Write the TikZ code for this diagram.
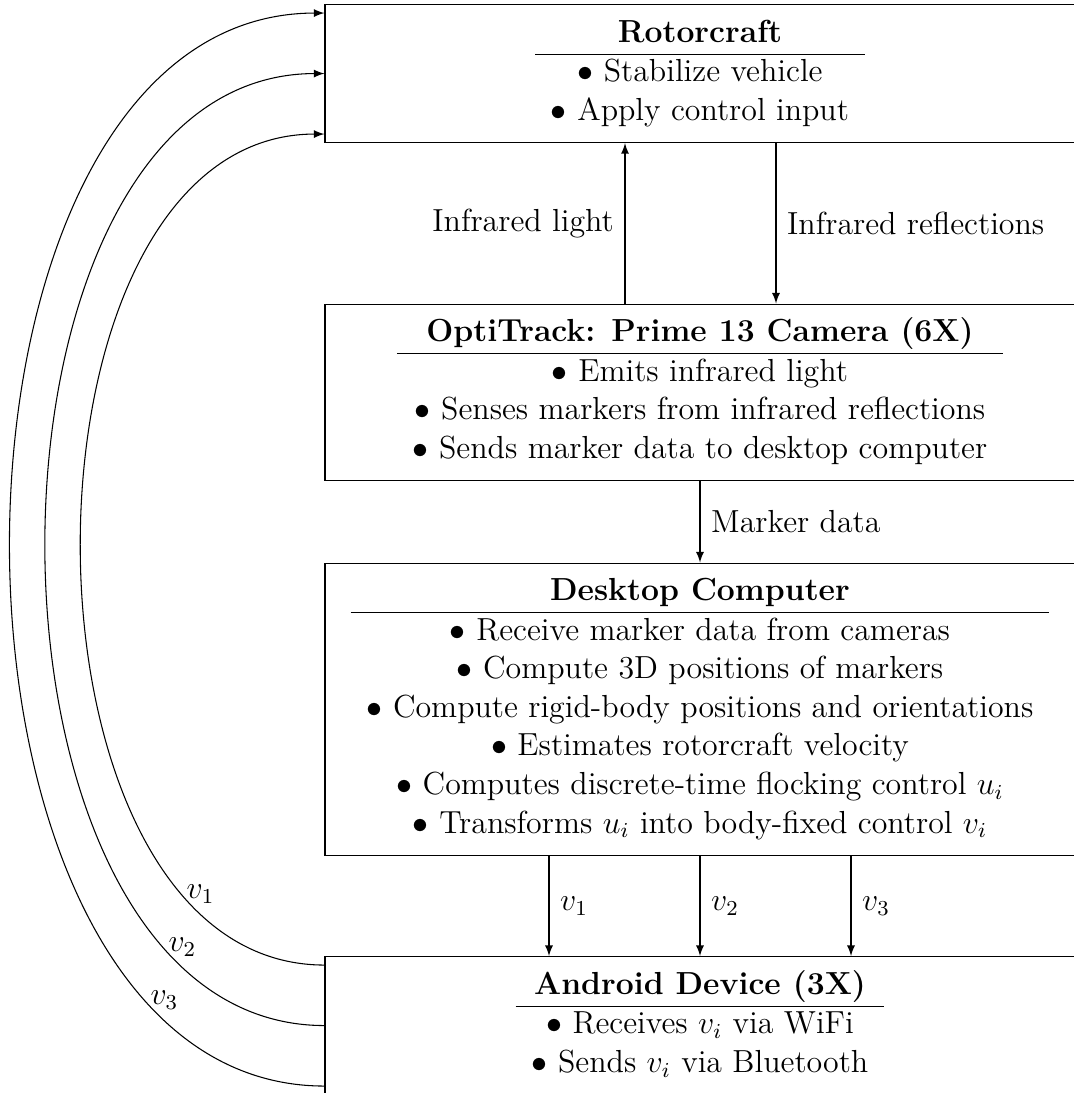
\documentclass[tikz,border=0pt,12pt]{standalone}
\usetikzlibrary{calc}
\tikzset{
  unitbox/.style={draw, rectangle, anchor=north, minimum width=282pt, inner sep=4pt},
  link/.style={-latex},
}
\begin{document}
\begin{tikzpicture}[x=0.376pt,y=-0.376pt]
   \useasboundingbox (0,0) rectangle (1073,1093);
   % boxes
   \node[unitbox] (rotor) at (700,4) {\begin{tabular}{c}
      \textbf{Rotorcraft}\\ \hline
      $\bullet$ Stabilize vehicle\\
      $\bullet$ Apply control input
   \end{tabular}};
   \node[unitbox] (opti) at (700,303.5) {\begin{tabular}{c}
      \textbf{OptiTrack: Prime 13 Camera (6X)}\\ \hline
      $\bullet$ Emits infrared light\\
      $\bullet$ Senses markers from infrared reflections\\
      $\bullet$ Sends marker data to desktop computer
   \end{tabular}};
   \node[unitbox] (desk) at (700,562.5) {\begin{tabular}{c}
      \textbf{Desktop Computer}\\ \hline
      $\bullet$ Receive marker data from cameras\\
      $\bullet$ Compute 3D positions of markers\\
      $\bullet$ Compute rigid-body positions and orientations\\
      $\bullet$ Estimates rotorcraft velocity\\
      $\bullet$ Computes discrete-time flocking control $u_i$\\
      $\bullet$ Transforms $u_i$ into body-fixed control $v_i$
   \end{tabular}};
   \node[unitbox] (android) at (700,956) {\begin{tabular}{c}
      \textbf{Android Device (3X)}\\ \hline
      $\bullet$ Receives $v_i$ via WiFi\\
      $\bullet$ Sends $v_i$ via Bluetooth
   \end{tabular}};
   % camera <-> rotorcraft
   \draw[link] ($(opti.north)+(-75,0)$) -- ($(rotor.south)+(-75,0)$)
      node[midway,left]{Infrared light};
   \draw[link] ($(rotor.south)+(76,0)$) -- ($(opti.north)+(76,0)$)
      node[midway,right]{Infrared reflections};
   \draw[link] (opti.south) -- (desk.north) node[midway,right]{Marker data};
   % desktop -> android
   \draw[link] ($(desk.south)+(-151,0)$) -- ($(android.north)+(-151,0)$)
      node[midway,right]{$v_1$};
   \draw[link] (desk.south) -- (android.north) node[midway,right]{$v_2$};
   \draw[link] ($(desk.south)+(151,0)$) -- ($(android.north)+(151,0)$)
      node[midway,right]{$v_3$};
   % android -> rotorcraft
   \draw[link] ($(android.west)+(0,-60.5)$) to[out=180,in=180]
      node[pos=0.15,above]{$v_1$} ($(rotor.west)+(0,60.5)$);
   \draw[link] (android.west) to[out=180,in=180]
      node[pos=0.15,above]{$v_2$} (rotor.west);
   \draw[link] ($(android.west)+(0,60.5)$) to[out=180,in=180]
      node[pos=0.15,above]{$v_3$} ($(rotor.west)+(0,-60.5)$);
\end{tikzpicture}
\end{document}
